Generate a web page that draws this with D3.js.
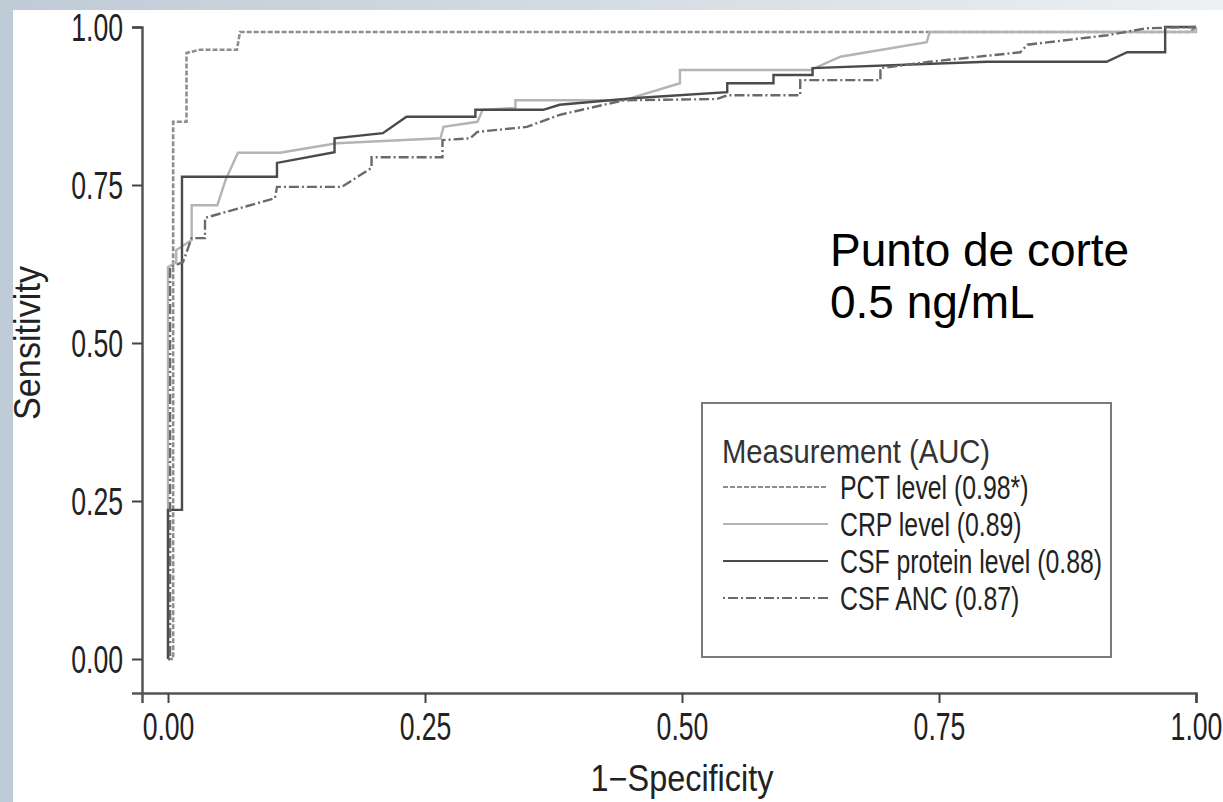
<!DOCTYPE html>
<html>
<head>
<meta charset="utf-8">
<script src="https://cdn.jsdelivr.net/npm/d3@7"></script>
<style>
  html, body { margin: 0; padding: 0; }
  body { width: 1223px; height: 802px; overflow: hidden; }
  svg text { font-family: "Liberation Sans", Arial, sans-serif; }
</style>
</head>
<body>
<div id="wrapper"></div>
<script>
// ROC curves as [1 - specificity, sensitivity]
const pctLevel = [
  [0, 0], [0.005, 0], [0.005, 0.85], [0.018, 0.85], [0.018, 0.959],
  [0.031, 0.964], [0.067, 0.964], [0.07, 0.992], [0.994, 0.992], [1, 1]
];
const crpLevel = [
  [0, 0], [0, 0.62], [0.008, 0.628], [0.008, 0.647], [0.023, 0.663],
  [0.023, 0.718], [0.048, 0.718], [0.056, 0.758], [0.068, 0.801],
  [0.109, 0.801], [0.164, 0.816], [0.265, 0.824], [0.268, 0.842],
  [0.301, 0.85], [0.306, 0.869], [0.338, 0.872], [0.338, 0.884],
  [0.443, 0.884], [0.498, 0.911], [0.498, 0.932], [0.625, 0.932],
  [0.654, 0.953], [0.738, 0.976], [0.741, 0.992], [1, 0.992], [1, 1]
];
const csfProtein = [
  [0, 0], [0, 0.236], [0.0136, 0.236], [0.0136, 0.763], [0.106, 0.763],
  [0.106, 0.785], [0.162, 0.802], [0.162, 0.824], [0.209, 0.832],
  [0.232, 0.858], [0.299, 0.858], [0.299, 0.869], [0.365, 0.869],
  [0.381, 0.877], [0.43, 0.884], [0.459, 0.888], [0.544, 0.897],
  [0.544, 0.911], [0.589, 0.911], [0.589, 0.924], [0.627, 0.924],
  [0.627, 0.935], [0.797, 0.945], [0.913, 0.945], [0.933, 0.96],
  [0.97, 0.96], [0.97, 1], [1, 1]
];
const csfAnc = [
  [0, 0], [0.002, 0], [0.002, 0.62], [0.0146, 0.628], [0.023, 0.666],
  [0.036, 0.666], [0.036, 0.698], [0.104, 0.729], [0.106, 0.747],
  [0.169, 0.747], [0.198, 0.777], [0.198, 0.794], [0.267, 0.794],
  [0.267, 0.821], [0.294, 0.824], [0.301, 0.834], [0.349, 0.842],
  [0.381, 0.861], [0.443, 0.884], [0.534, 0.886], [0.544, 0.892],
  [0.615, 0.892], [0.615, 0.916], [0.693, 0.916], [0.693, 0.935],
  [0.741, 0.945], [0.829, 0.96], [0.836, 0.972], [0.914, 0.987],
  [0.952, 0.998], [1, 1]
];

const seriesNames = [
  "PCT level (0.98*)",
  "CRP level (0.89)",
  "CSF protein level (0.88)",
  "CSF ANC (0.87)"
];
const seriesData = [pctLevel, crpLevel, csfProtein, csfAnc];
const tickValues = [0, 0.25, 0.5, 0.75, 1];

const LEGEND_TITLE = "Measurement (AUC)";
const X_LABEL = "1\u2212Specificity";
const Y_LABEL = "Sensitivity";
const NOTE = ["Punto de corte", "0.5 ng/mL"];

const styles = [
  { stroke: "#8e8e8e", dash: "5,2", width: 2.6 },
  { stroke: "#b4b4b4", dash: null, width: 2.4 },
  { stroke: "#4a4a4a", dash: null, width: 2.4 },
  { stroke: "#6a6a6a", dash: "2,3,10,3", width: 2.4 }
];

const dimensions = {
  width: 1223,
  height: 802,
  margin: { top: 27, right: 27, bottom: 109, left: 142 }
};
dimensions.boundedWidth = dimensions.width
  - dimensions.margin.left
  - dimensions.margin.right;
dimensions.boundedHeight = dimensions.height
  - dimensions.margin.top
  - dimensions.margin.bottom;

// no condensed font installed: squeeze glyphs to mimic the narrow original type
function condense(selection, factor) {
  selection.each(function() {
    const w = this.getComputedTextLength();
    d3.select(this)
      .attr("textLength", w * factor)
      .attr("lengthAdjust", "spacingAndGlyphs");
  });
}

const wrapper = d3.select("#wrapper")
  .append("svg")
  .attr("width", dimensions.width)
  .attr("height", dimensions.height);

// slide-style frame: bluish strip at top and left
const defs = wrapper.append("defs");
const grad = defs.append("linearGradient")
  .attr("id", "frame")
  .attr("x1", "0%").attr("x2", "100%")
  .attr("y1", "0%").attr("y2", "0%");
grad.append("stop").attr("offset", "0%").attr("stop-color", "#bfcbd6");
grad.append("stop").attr("offset", "60%").attr("stop-color", "#d9e0e6");
grad.append("stop").attr("offset", "100%").attr("stop-color", "#eef1f3");

wrapper.append("rect")
  .attr("width", dimensions.width)
  .attr("height", dimensions.height)
  .attr("fill", "url(#frame)");
wrapper.append("rect")
  .attr("x", 13).attr("y", 10)
  .attr("width", dimensions.width - 13)
  .attr("height", dimensions.height - 10)
  .attr("fill", "#ffffff");

const bounds = wrapper.append("g")
  .attr("transform", `translate(${dimensions.margin.left},${dimensions.margin.top})`);

// domains start a bit below zero so the axes sit off the data, like the original
const xScale = d3.scaleLinear()
  .domain([-0.0253, 1])
  .range([0, dimensions.boundedWidth]);

const yScale = d3.scaleLinear()
  .domain([-0.0538, 1])
  .range([dimensions.boundedHeight, 0]);

const lineGenerator = d3.line()
  .x(d => xScale(d[0]))
  .y(d => yScale(d[1]));

bounds.selectAll(".roc")
  .data(seriesData)
  .join("path")
  .attr("class", "roc")
  .attr("d", lineGenerator)
  .attr("fill", "none")
  .attr("stroke", (d, i) => styles[i].stroke)
  .attr("stroke-width", (d, i) => styles[i].width)
  .attr("stroke-dasharray", (d, i) => styles[i].dash);

// axes
const xAxis = bounds.append("g")
  .attr("transform", `translate(0,${dimensions.boundedHeight})`)
  .call(d3.axisBottom(xScale)
    .tickValues(tickValues)
    .tickFormat(d3.format(".2f"))
    .tickSizeOuter(0)
    .tickSize(10)
    .tickPadding(10));

const yAxis = bounds.append("g")
  .call(d3.axisLeft(yScale)
    .tickValues(tickValues)
    .tickFormat(d3.format(".2f"))
    .tickSizeOuter(0)
    .tickSize(10)
    .tickPadding(9));

[xAxis, yAxis].forEach(axis => {
  axis.select(".domain").attr("stroke", "#555").attr("stroke-width", 2.5);
  axis.selectAll(".tick line").attr("stroke", "#444").attr("stroke-width", 2);
  axis.selectAll(".tick text")
    .attr("fill", "#222")
    .style("font-family", "'Liberation Sans', Arial, sans-serif")
    .style("font-size", "38px")
    .call(condense, 0.7);
});
yAxis.selectAll(".tick text").attr("dy", "0.36em");

const xLabel = xAxis.append("text")
  .attr("x", xScale(0.5))
  .attr("y", 98)
  .attr("fill", "#222")
  .attr("text-anchor", "middle")
  .style("font-size", "36px")
  .text(X_LABEL)
  .call(condense, 0.9);

const yLabel = yAxis.append("text")
  .attr("transform", `rotate(-90)`)
  .attr("x", -yScale(0.5))
  .attr("y", -dimensions.margin.left + 40)
  .attr("fill", "#222")
  .attr("text-anchor", "middle")
  .style("font-size", "36px")
  .text(Y_LABEL)
  .call(condense, 0.95);

// note text
wrapper.append("g")
  .selectAll("text")
  .data(NOTE)
  .join("text")
  .attr("x", 830)
  .attr("y", (d, i) => 266 + i * 52)
  .attr("fill", "#000")
  .style("font-size", "46px")
  .text(d => d);

// legend
const legend = wrapper.append("g")
  .attr("transform", "translate(702,403)");

legend.append("rect")
  .attr("width", 409)
  .attr("height", 254)
  .attr("fill", "#fff")
  .attr("stroke", "#7a7a7a")
  .attr("stroke-width", 2);

legend.append("text")
  .attr("x", 20)
  .attr("y", 48)
  .attr("dy", "0.35em")
  .attr("fill", "#333")
  .style("font-size", "34px")
  .text(LEGEND_TITLE)
  .call(condense, 0.86);

const legendRows = legend.selectAll(".row")
  .data(seriesNames)
  .join("g")
  .attr("class", "row")
  .attr("transform", (d, i) => `translate(0,${84 + i * 37})`);

legendRows.append("line")
  .attr("x1", 21).attr("x2", 126)
  .attr("stroke", (d, i) => styles[i].stroke)
  .attr("stroke-width", 2.2)
  .attr("stroke-dasharray", (d, i) => styles[i].dash);

legendRows.append("text")
  .attr("x", 138)
  .attr("dy", "0.35em")
  .attr("fill", "#222")
  .style("font-size", "34px")
  .text(d => d)
  .call(condense, 0.73);
</script>
</body>
</html>
